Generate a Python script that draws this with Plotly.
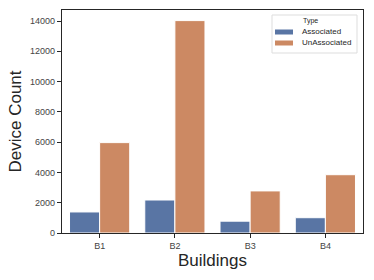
import plotly.graph_objects as go

buildings = ["B1", "B2", "B3", "B4"]
associated = [1390, 2180, 780, 1010]
unassociated = [5970, 14030, 2780, 3850]
series_names = ["Associated", "UnAssociated"]
colors = ["#5975a4", "#cc8963"]
yticks = [0, 2000, 4000, 6000, 8000, 10000, 12000, 14000]

W, H = 374, 280
L, R, T, B = 62, 11, 10, 47
PW, PH = W - L - R, H - T - B

def px(x):
    return (x - L) / PW

def py(y):
    return (H - B - y) / PH

FONT = "Liberation Sans, Arial"

fig = go.Figure()
for name, vals, c in zip(series_names, [associated, unassociated], colors):
    fig.add_trace(go.Bar(x=buildings, y=vals, name=name, marker_color=c,
                         marker_line_color="white", marker_line_width=1,
                         showlegend=False))

axis_common = dict(showline=True, linecolor="#262626", linewidth=1.2, mirror=True,
                   ticks="outside", ticklen=4, tickcolor="#262626",
                   tickfont=dict(family=FONT, size=9, color="#444444"),
                   showgrid=False, zeroline=False, automargin=False)

shapes = [dict(type="rect", xref="paper", yref="paper",
               x0=px(272), x1=px(357), y0=py(53), y1=py(15),
               line=dict(color="#dddddd", width=1), fillcolor="white", layer="above")]
annotations = [dict(text="Type", xref="paper", yref="paper", x=px(310), y=py(21),
                    showarrow=False, font=dict(family=FONT, size=7, color="#262626"),
                    xanchor="center", yanchor="middle")]
for i, (name, c) in enumerate(zip(series_names, colors)):
    yc = 32 + i * 11
    shapes.append(dict(type="rect", xref="paper", yref="paper",
                       x0=px(275), x1=px(293), y0=py(yc + 2.5), y1=py(yc - 2.5),
                       line=dict(width=0), fillcolor=c, layer="above"))
    annotations.append(dict(text=name, xref="paper", yref="paper", x=px(300), y=py(yc),
                            showarrow=False, font=dict(family=FONT, size=8, color="#262626"),
                            xanchor="left", yanchor="middle"))

fig.update_layout(
    width=W, height=H,
    margin=dict(l=L, r=R, t=T, b=B),
    plot_bgcolor="white", paper_bgcolor="white",
    barmode="group", bargap=0.2, bargroupgap=0,
    xaxis=dict(title=dict(text="Buildings", font=dict(family=FONT, size=17, color="#262626"), standoff=2),
               range=[-0.5, 3.5], **axis_common),
    yaxis=dict(title=dict(text="Device Count", font=dict(family=FONT, size=17, color="#262626"), standoff=4),
               range=[0, 14730], tickvals=yticks, ticktext=[str(v) for v in yticks], **axis_common),
    shapes=shapes, annotations=annotations,
    showlegend=False,
)

fig.write_html("out.html", config={"displayModeBar": False},
               post_script="document.body.style.margin='0';")
